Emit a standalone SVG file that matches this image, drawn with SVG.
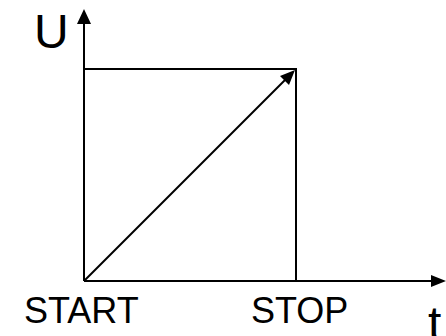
<svg xmlns="http://www.w3.org/2000/svg" width="446" height="336" viewBox="0 0 446 336">
<style>
.ln{stroke:#000;stroke-width:2;fill:none}
.tx{font-family:"Liberation Sans",Arial,sans-serif;fill:#000}
</style>
<rect width="446" height="336" fill="#fff"/>
<g id="connectors">
<line class="ln" x1="84" y1="281" x2="84" y2="22"/>
<polygon points="84,9 77,24 91,24"/>
<line class="ln" x1="84" y1="281" x2="432" y2="281"/>
<polygon points="446,281 431,275 431,287"/>
<polyline class="ln" points="84,69 296,69 296,281"/>
<line class="ln" x1="84" y1="281" x2="285" y2="80"/>
<polygon points="295,70 280,76 289,85"/>
</g>
<g id="labels">
<text class="tx" x="34" y="48" font-size="48">U</text>
<text class="tx" x="24" y="323" font-size="36">START</text>
<text class="tx" x="251" y="323" font-size="36">STOP</text>
<text class="tx" x="428" y="340" font-size="48">t</text>
</g>
</svg>
